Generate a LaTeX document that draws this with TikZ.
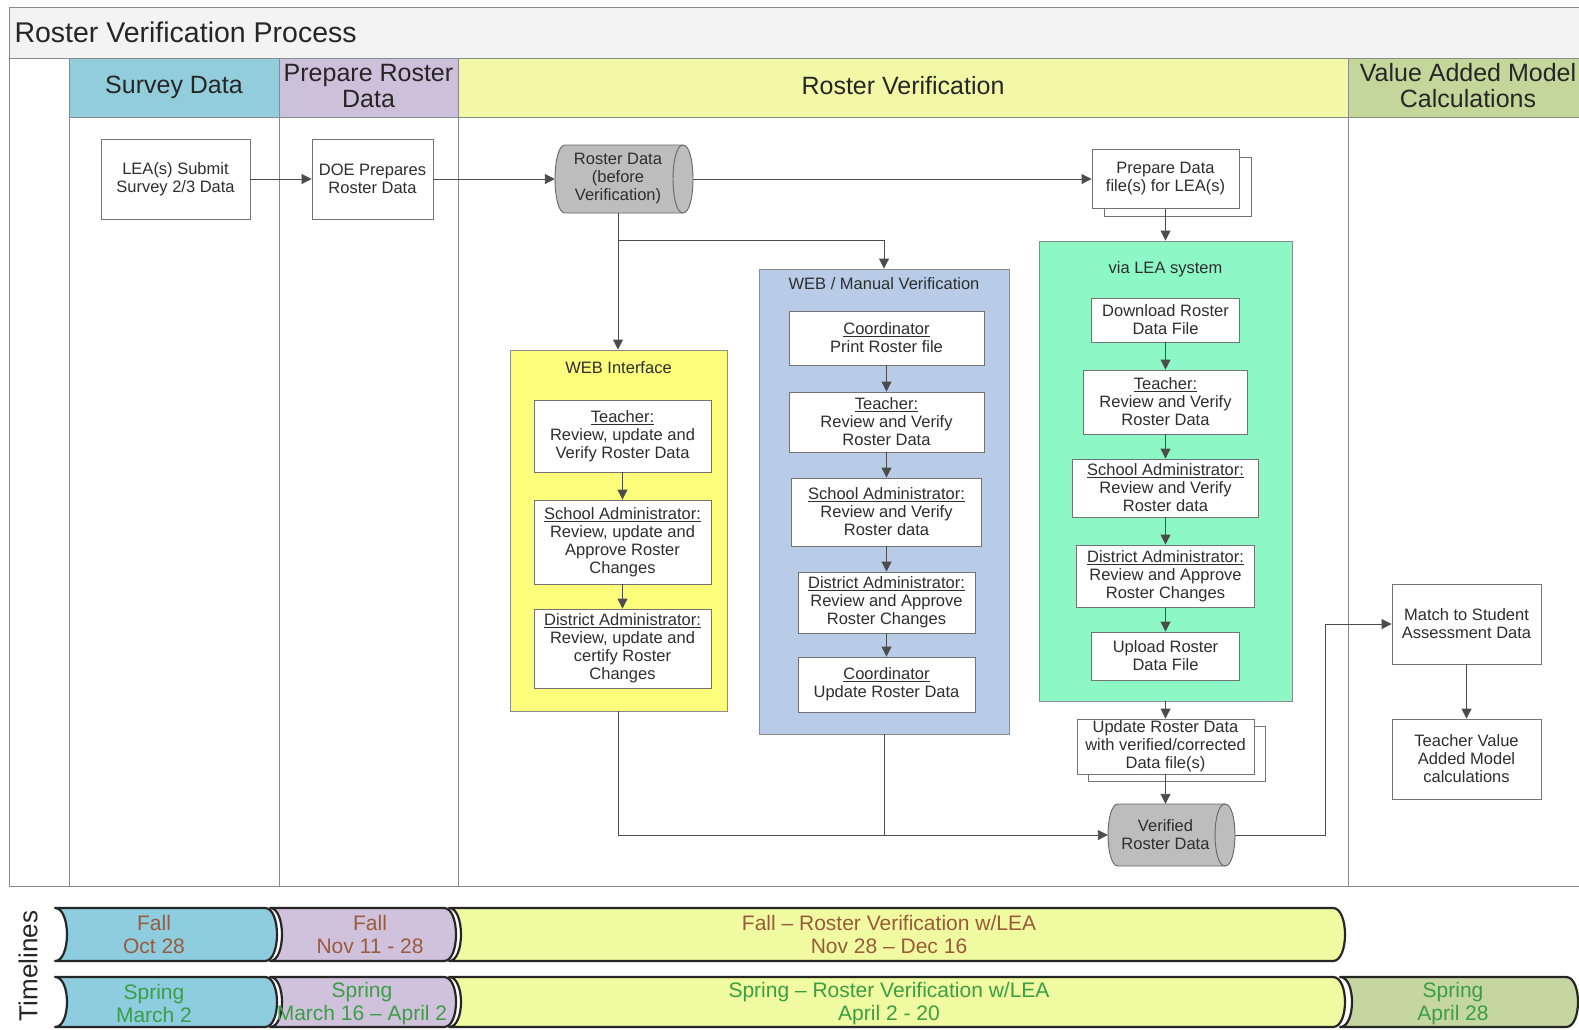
\documentclass[tikz,border=0pt]{standalone}
\usepackage{fontspec}
\setmainfont{Liberation Sans}
\usetikzlibrary{arrows.meta}
\definecolor{lnc}{HTML}{8A8A8A}
\definecolor{hdblue}{HTML}{92CDDC}
\definecolor{hdlav}{HTML}{CCC0DA}
\definecolor{hdyel}{HTML}{F1F9A6}
\definecolor{hdgrn}{HTML}{C4D79B}
\definecolor{webyel}{HTML}{FDFD7C}
\definecolor{webblu}{HTML}{B8CCE8}
\definecolor{leagrn}{HTML}{8DF7C5}
\definecolor{cylgray}{HTML}{BDBDBD}
\definecolor{fallc}{HTML}{9A5A3C}
\definecolor{sprc}{HTML}{3A9E45}
\definecolor{txt}{HTML}{2E2E2E}
\definecolor{titlebg}{HTML}{F3F3F3}
\definecolor{tlblue}{HTML}{8ECDE0}
\definecolor{tllav}{HTML}{D0C2DC}
\definecolor{tlyel}{HTML}{F0FAA0}
\definecolor{tlgrn}{HTML}{C5D6A0}
\tikzset{
  gridline/.style={draw=lnc, line width=1pt},
  box/.style={draw=black!55, fill=white, line width=0.9pt, align=center, text=txt,
    font=\fontsize{16.5}{18}\selectfont, inner sep=0pt},
  cont/.style={draw=black!45, line width=0.9pt, inner sep=0pt},
  ctitle/.style={font=\fontsize{16.5}{18}\selectfont, text=txt},
  conn/.style={draw=black!70, line width=0.9pt},
  arr/.style={conn, -{Triangle[length=10pt,width=10pt]}},
  hdr/.style={font=\fontsize{25}{26}\selectfont, text=black!85, align=center},
  tlseg/.style={draw=black!85, line width=2.2pt, line join=round},
  tltext/.style={font=\fontsize{21}{23}\selectfont, align=center},
  cyl/.style={draw=black!60, fill=cylgray, line width=0.9pt},
  cyltext/.style={align=center, text=txt, font=\fontsize{16.5}{18}\selectfont, inner sep=0pt}
}
\newcommand\TLseg[5]{\filldraw[tlseg, fill=#5] (#1,#3) -- (#2,#3) .. controls ({#2+16},#3) and ({#2+16},#4) .. (#2,#4) -- (#1,#4) .. controls ({#1+16},#4) and ({#1+16},#3) .. (#1,#3) -- cycle;}
\begin{document}
\begin{tikzpicture}[x=1pt,y=-1pt]
\useasboundingbox (0,0) rectangle (1579,1029);
\clip (0,0) rectangle (1579,1029);
\fill[white] (0,0) rectangle (1579,1029);
% title band and header
\fill[titlebg] (9,7) rectangle (1600,58);
\fill[hdblue] (69,58) rectangle (279,117);
\fill[hdlav] (279,58) rectangle (458,117);
\fill[hdyel] (458,58) rectangle (1348,117);
\fill[hdgrn] (1348,58) rectangle (1600,117);
\draw[gridline] (9,7) rectangle (1600,886);
\draw[gridline] (9,58) -- (1600,58);
\draw[gridline] (69,117) -- (1600,117);
\foreach \xx in {69,279,458,1348} \draw[gridline] (\xx,58) -- (\xx,886);
\node[anchor=west, font=\fontsize{28.5}{30}\selectfont, text=black!85] (title) at (11,32) {Roster Verification Process};
\node[hdr] (h1) at (174,87) {Survey Data};
\node[hdr] (h2) at (368.5,86) {Prepare Roster\\Data};
\node[hdr] (h3) at (903,86) {Roster Verification};
\node[hdr] (h4) at (1468,86) {Value Added Model\\Calculations};

% containers
\node[cont, fill=webyel, minimum width=217pt, minimum height=361pt] (webI) at (618.5,530.5) {};
\node[ctitle] (webIt) at (618.5,368) {WEB Interface};
\node[cont, fill=webblu, minimum width=250pt, minimum height=465pt] (webM) at (884,501.5) {};
\node[ctitle] (webMt) at (884,284) {WEB / Manual Verification};
\node[cont, fill=leagrn, minimum width=253pt, minimum height=460pt] (leaC) at (1165.5,471) {};
\node[ctitle] (leaCt) at (1165.5,269) {via LEA system};

% first row
\node[box, minimum width=149pt, minimum height=80pt] (lea) at (175.5,179) {LEA(s) Submit\\Survey 2/3 Data};
\node[box, minimum width=121pt, minimum height=80pt] (doe) at (372.5,179) {DOE Prepares\\Roster Data};
\filldraw[cyl] (565,145) -- (683,145) .. controls (696.3,145) and (696.3,213) .. (683,213) -- (565,213) .. controls (551.7,213) and (551.7,145) .. (565,145) -- cycle;
\draw[draw=black!60, line width=0.9pt] (683,145) .. controls (669.7,145) and (669.7,213) .. (683,213);
\node[minimum width=138pt, minimum height=68pt, inner sep=0pt] (cylA) at (624,179) {};
\node[cyltext, minimum height=68pt] (cylAt) at (618,179) {Roster Data\\(before\\Verification)};
\node[box, minimum width=147pt, minimum height=59pt] (prepb) at (1177.5,187) {};
\node[box, minimum width=147pt, minimum height=59pt] (prep) at (1165.5,179) {Prepare Data\\file(s) for LEA(s)};

% WEB interface
\node[box, minimum width=177pt, minimum height=72pt] (wi1) at (622.5,436) {\underline{Teacher:}\\Review, update and\\Verify Roster Data};
\node[box, minimum width=177pt, minimum height=84pt] (wi2) at (622.5,542) {\underline{School Administrator:}\\Review, update and\\Approve Roster\\Changes};
\node[box, minimum width=177pt, minimum height=79pt] (wi3) at (622.5,648.5) {\underline{District Administrator:}\\Review, update and\\certify Roster\\Changes};

% WEB / Manual
\node[box, minimum width=195pt, minimum height=54pt] (wm1) at (886.5,338) {\underline{Coordinator}\\Print Roster file};
\node[box, minimum width=195pt, minimum height=60pt] (wm2) at (886.5,422) {\underline{Teacher:}\\Review and Verify\\Roster Data};
\node[box, minimum width=190pt, minimum height=68pt] (wm3) at (886.5,512) {\underline{School Administrator:}\\Review and Verify\\Roster data};
\node[box, minimum width=177pt, minimum height=61pt] (wm4) at (886.5,602.5) {\underline{District Administrator:}\\Review and Approve\\Roster Changes};
\node[box, minimum width=177pt, minimum height=55pt] (wm5) at (886.5,684.5) {\underline{Coordinator}\\Update Roster Data};

% via LEA
\node[box, minimum width=148pt, minimum height=44pt] (ls1) at (1165.5,320) {Download Roster\\Data File};
\node[box, minimum width=164pt, minimum height=64pt] (ls2) at (1165.5,402) {\underline{Teacher:}\\Review and Verify\\Roster Data};
\node[box, minimum width=186pt, minimum height=58pt] (ls3) at (1165.5,488) {\underline{School Administrator:}\\Review and Verify\\Roster data};
\node[box, minimum width=178pt, minimum height=62pt] (ls4) at (1165.5,576) {\underline{District Administrator:}\\Review and Approve\\Roster Changes};
\node[box, minimum width=148pt, minimum height=48pt] (ls5) at (1165.5,656) {Upload Roster\\Data File};

% update + verified
\node[box, minimum width=177pt, minimum height=55pt] (updb) at (1176.5,753.5) {};
\node[box, minimum width=177pt, minimum height=55pt] (upd) at (1165.5,746.5) {Update Roster Data\\with verified/corrected\\Data file(s)};
\filldraw[cyl] (1118,804) -- (1225,804) .. controls (1238.3,804) and (1238.3,866) .. (1225,866) -- (1118,866) .. controls (1104.7,866) and (1104.7,804) .. (1118,804) -- cycle;
\draw[draw=black!60, line width=0.9pt] (1225,804) .. controls (1211.7,804) and (1211.7,866) .. (1225,866);
\node[minimum width=127pt, minimum height=62pt, inner sep=0pt] (cylB) at (1171.5,835) {};
\node[cyltext, minimum height=62pt] (cylBt) at (1165.5,835) {Verified\\Roster Data};

% value added
\node[box, minimum width=149pt, minimum height=80pt] (match) at (1466.5,624) {Match to Student\\Assessment Data};
\node[box, minimum width=149pt, minimum height=80pt] (tva) at (1466.5,759) {Teacher Value\\Added Model\\calculations};

% connectors
\draw[arr] (lea) -- (doe);
\draw[arr] (doe) -- (cylA.west);
\draw[arr] (cylA.east) -- (prep.west);
\draw[arr] (cylAt.south) -- (cylAt.south |- webI.north);
\coordinate (br) at (618,240);
\draw[arr] (br) -| (webM.north);
\draw[arr] (prep.south) -- (leaC.north);
\draw[arr] (wi1) -- (wi2);
\draw[arr] (wi2) -- (wi3);
\draw[arr] (wm1) -- (wm2);
\draw[arr] (wm2) -- (wm3);
\draw[arr] (wm3) -- (wm4);
\draw[arr] (wm4) -- (wm5);
\draw[arr] (ls1) -- (ls2);
\draw[arr] (ls2) -- (ls3);
\draw[arr] (ls3) -- (ls4);
\draw[arr] (ls4) -- (ls5);
\draw[arr] (leaC.south) -- (upd.north);
\draw[arr] (upd.south) -- (cylBt.north);
\draw[arr] (webI.south) |- (cylB.west);
\draw[conn] (webM.south) -- (webM.south |- cylB.west);
\coordinate (bend) at (1325,835);
\draw[arr] (cylB.east) -- (bend) |- (match.west);
\draw[arr] (match) -- (tva);

% timelines
\node[rotate=90, font=\fontsize{26}{28}\selectfont, text=black!85] (tlab) at (28,966) {Timelines};
\TLseg{55}{265}{908}{961}{tlblue}
\TLseg{270}{444}{908}{961}{tllav}
\TLseg{449}{1333}{908}{961}{tlyel}
\TLseg{55}{265}{977}{1027}{tlblue}
\TLseg{270}{444}{977}{1027}{tllav}
\TLseg{449}{1333}{977}{1027}{tlyel}
\TLseg{1340}{1566}{977}{1027}{tlgrn}
\node[tltext, text=fallc] (t1a) at (154,934.5) {Fall\\Oct 28};
\node[tltext, text=fallc] (t1b) at (370,934.5) {Fall\\Nov 11 - 28};
\node[tltext, text=fallc] (t1c) at (889,934.5) {Fall – Roster Verification w/LEA\\Nov 28 – Dec 16};
\node[tltext, text=sprc] (t2a) at (154,1003.5) {Spring\\March 2};
\node[tltext, text=sprc] (t2b) at (362,1003.5) {Spring\\March 16 – April 2};
\node[tltext, text=sprc] (t2c) at (889,1003.5) {Spring – Roster Verification w/LEA\\April 2 - 20};
\node[tltext, text=sprc] (t2d) at (1453,1003.5) {Spring\\April 28};
\end{tikzpicture}
\end{document}
